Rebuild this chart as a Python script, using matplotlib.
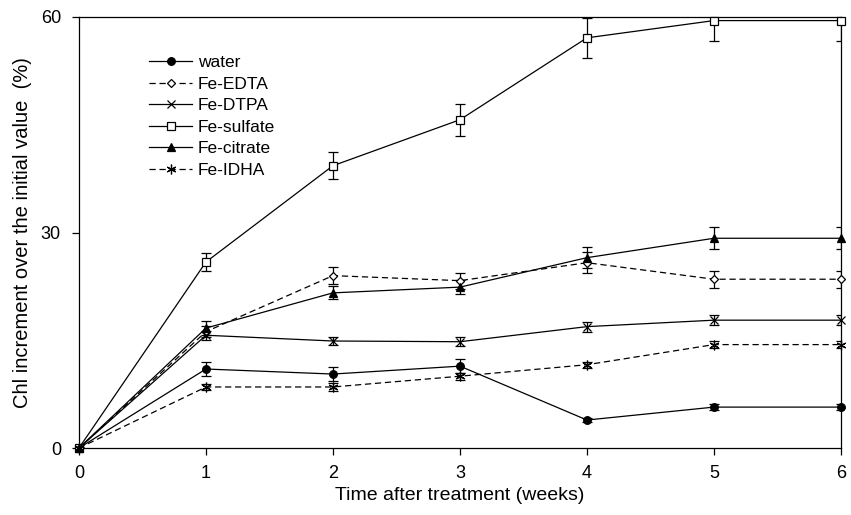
import matplotlib
matplotlib.use("Agg")
import matplotlib.pyplot as plt
from matplotlib.lines import Line2D

plt.rcParams['font.family'] = ['Liberation Sans', 'DejaVu Sans']

# data
weeks = [0, 1, 2, 3, 4, 5, 6]

water = [0, 11.0, 10.3, 11.4, 3.9, 5.7, 5.7]
water_err = [0, 1.0, 1.0, 1.0, 0.3, 0.4, 0.4]

fe_edta = [0, 16.2, 24.0, 23.3, 25.8, 23.5, 23.5]
fe_edta_err = [0, 0.8, 1.2, 1.1, 1.5, 1.2, 1.2]

fe_dtpa = [0, 15.7, 14.9, 14.8, 16.9, 17.8, 17.8]
fe_dtpa_err = [0, 0.6, 0.6, 0.6, 0.7, 0.7, 0.7]

fe_sulfate = [0, 25.9, 39.3, 45.7, 57.1, 59.5, 59.5]
fe_sulfate_err = [0, 1.3, 1.9, 2.2, 2.8, 2.9, 2.9]

fe_citrate = [0, 16.7, 21.6, 22.4, 26.5, 29.2, 29.2]
fe_citrate_err = [0, 1.0, 0.9, 1.0, 1.5, 1.5, 1.5]

fe_idha = [0, 8.5, 8.5, 10.0, 11.6, 14.4, 14.4]
fe_idha_err = [0, 0.4, 0.5, 0.5, 0.4, 0.5, 0.5]

labels = ["water", "Fe-EDTA", "Fe-DTPA", "Fe-sulfate", "Fe-citrate", "Fe-IDHA"]
series = [water, fe_edta, fe_dtpa, fe_sulfate, fe_citrate, fe_idha]
errors = [water_err, fe_edta_err, fe_dtpa_err, fe_sulfate_err, fe_citrate_err, fe_idha_err]

# marker, face colour, dashed, size
styles = [
    ("o", "black", False, 5.5),
    ("D", "white", True, 3.8),
    ("x", "none", False, 5.5),
    ("s", "white", False, 5.5),
    ("^", "black", False, 5.5),
    ((6, 2, 0), "none", True, 7),
]

fig = plt.figure(figsize=(8.51, 5.15), dpi=100)
ax = fig.add_axes([0.0928, 0.130, 0.8954, 0.837])

handles = []
for y, err, lab, (mk, fc, dashed, ms) in zip(series, errors, labels, styles):
    ls = (0, (5, 3)) if dashed else "-"
    line, caps, bars = ax.errorbar(weeks, y, yerr=err, color="black", lw=0.9, ls=ls,
                                   marker=mk, ms=ms, mfc=fc, mec="black", mew=0.9,
                                   ecolor="black", elinewidth=0.9, capsize=3.5,
                                   capthick=0.9, zorder=3)
    line.set_clip_on(False)
    handles.append(Line2D([], [], color="black", lw=0.9, ls=ls, marker=mk, ms=ms,
                          mfc=fc, mec="black", mew=0.9, label=lab))

ax.set_xlim(0, 6)
ax.set_ylim(0, 60)
ax.set_xticks(range(0, 7))
ax.set_yticks([0, 30, 60])
ax.tick_params(axis="both", direction="out", length=5, width=0.9,
               labelsize=13, top=False, right=False)
ax.tick_params(axis="x", pad=7)
ax.tick_params(axis="y", pad=8)
for s in ax.spines.values():
    s.set_linewidth(0.9)

ax.set_xlabel("Time after treatment (weeks)", fontsize=14, labelpad=4)
ax.set_ylabel("Chl increment over the initial value  (%)", fontsize=14.5, labelpad=6)

ax.legend(handles=handles, loc="upper left", bbox_to_anchor=(0.092, 0.912),
          frameon=False, fontsize=12.5, handlelength=2.5, handletextpad=0.3,
          labelspacing=0.37, borderaxespad=0, borderpad=0)

fig.savefig("out.png", dpi=100)
